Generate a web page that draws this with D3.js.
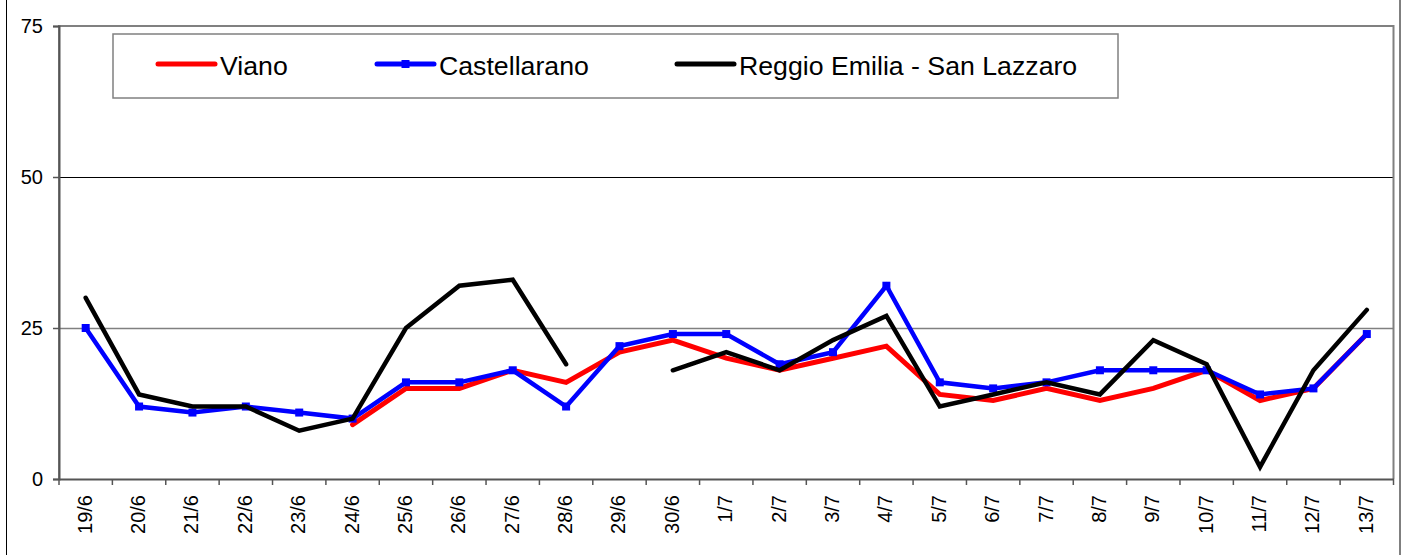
<!DOCTYPE html>
<html>
<head>
<meta charset="utf-8">
<script src="https://cdn.jsdelivr.net/npm/d3@7"></script>
<style>
  html, body { margin: 0; padding: 0; background: #fff; }
  svg { display: block; font-family: "Liberation Sans", Arial, sans-serif; }
</style>
</head>
<body>
<svg id="chart" width="1407" height="555"></svg>
<script>
const categories = ["19/6","20/6","21/6","22/6","23/6","24/6","25/6","26/6","27/6","28/6","29/6","30/6","1/7","2/7","3/7","4/7","5/7","6/7","7/7","8/7","9/7","10/7","11/7","12/7","13/7"];
const viano = [null,null,null,null,null,9,15,15,18,16,21,23,20,18,20,22,14,13,15,13,15,18,13,15,24];
const castellarano = [25,12,11,12,11,10,16,16,18,12,22,24,24,19,21,32,16,15,16,18,18,18,14,15,24];
const reggio = [30,14,12,12,8,10,25,32,33,19,null,18,21,18,23,27,12,14,16,14,23,19,2,18,28];
const yTicks = [0,25,50,75];
const seriesNames = ["Viano","Castellarano","Reggio Emilia - San Lazzaro"];

const svg = d3.select("#chart");
const plot = {left: 59, top: 26, right: 1393.5, bottom: 479};

// outer border
svg.append("rect").attr("x", 6.5).attr("y", -1).attr("width", 1393.5).attr("height", 557)
  .attr("fill", "#fff").attr("stroke", "#000").attr("stroke-width", 1);

const x = d3.scaleBand().domain(categories).range([plot.left, plot.right]).padding(0);
const y = d3.scaleLinear().domain([0, 75]).range([plot.bottom, plot.top]);
const xc = d => x(d) + x.bandwidth() / 2;

// gridlines
const gridColor = {25: "#808080", 50: "#000"};
svg.append("g").selectAll("line").data([25, 50]).join("line")
  .attr("x1", plot.left).attr("x2", plot.right)
  .attr("y1", d => Math.round(y(d)) + 0.5).attr("y2", d => Math.round(y(d)) + 0.5)
  .attr("stroke", d => gridColor[d]).attr("stroke-width", d => d === 25 ? 1.5 : 1);

// plot border (left, top, right) gray
svg.append("path")
  .attr("d", `M${plot.left},${plot.bottom} V${plot.top} H${plot.right} V${plot.bottom}`)
  .attr("fill", "none").attr("stroke", "#808080").attr("stroke-width", 2);

// y axis
const yAxis = svg.append("g").attr("transform", `translate(${plot.left},0)`)
  .call(d3.axisLeft(y).tickValues(yTicks).tickSize(6).tickPadding(10));
yAxis.attr("font-size", 20).attr("font-family", "Liberation Sans, Arial, sans-serif");
yAxis.select(".domain").attr("stroke", "#555").attr("stroke-width", 2);
yAxis.selectAll(".tick line").attr("stroke", "#555").attr("stroke-width", 1.5);
yAxis.selectAll(".tick text").attr("fill", "#000");

// x axis
const xAxis = svg.append("g").attr("transform", `translate(0,${plot.bottom})`)
  .call(d3.axisBottom(x).tickSize(0).tickPadding(0));
xAxis.attr("font-size", 20).attr("font-family", "Liberation Sans, Arial, sans-serif");
xAxis.select(".domain").attr("stroke", "#555").attr("stroke-width", 2);
xAxis.selectAll(".tick text")
  .attr("fill", "#000")
  .attr("text-anchor", "end")
  .attr("dy", null)
  .attr("transform", "translate(6,16) rotate(-90)")
  .attr("y", 0).attr("x", 0);
// boundary ticks between categories
const bounds = categories.map(c => x(c)).concat([plot.right]);
svg.append("g").selectAll("line").data(bounds).join("line")
  .attr("x1", d => d).attr("x2", d => d)
  .attr("y1", plot.bottom).attr("y2", plot.bottom + 6)
  .attr("stroke", "#555").attr("stroke-width", 1.5);

// series lines
const line = d3.line().defined(d => d.v != null).x(d => xc(d.c)).y(d => y(d.v));
const mk = arr => categories.map((c, i) => ({c, v: arr[i]}));
const series = [
  {name: seriesNames[0], data: mk(viano), color: "#ff0000", w: 5, marker: false},
  {name: seriesNames[1], data: mk(castellarano), color: "#0000ff", w: 4.5, marker: true},
  {name: seriesNames[2], data: mk(reggio), color: "#000000", w: 4.5, marker: false}
];
series.forEach(s => {
  svg.append("path").datum(s.data).attr("d", line)
    .attr("fill", "none").attr("stroke", s.color).attr("stroke-width", s.w)
    .attr("stroke-linejoin", "miter").attr("stroke-linecap", "round");
  if (s.marker) {
    svg.append("g").selectAll("rect").data(s.data.filter(d => d.v != null)).join("rect")
      .attr("x", d => xc(d.c) - 4).attr("y", d => y(d.v) - 4)
      .attr("width", 8).attr("height", 8).attr("fill", s.color);
  }
});

// legend
const lg = svg.append("g");
lg.append("rect").attr("x", 113).attr("y", 34).attr("width", 1005).attr("height", 64)
  .attr("fill", "#fff").attr("stroke", "#808080").attr("stroke-width", 1.5);
const legendX = [158, 377, 677];
series.forEach((s, i) => {
  const lx = legendX[i];
  lg.append("line").attr("x1", lx).attr("x2", lx + 57).attr("y1", 64).attr("y2", 64)
    .attr("stroke", s.color).attr("stroke-width", 5).attr("stroke-linecap", "round");
  if (s.marker) {
    lg.append("rect").attr("x", lx + 24.5).attr("y", 60).attr("width", 8).attr("height", 8).attr("fill", s.color);
  }
  lg.append("text").attr("x", lx + 62).attr("y", 75).attr("font-size", 26.7).attr("fill", "#000")
    .text(s.name);
});
</script>
</body>
</html>
